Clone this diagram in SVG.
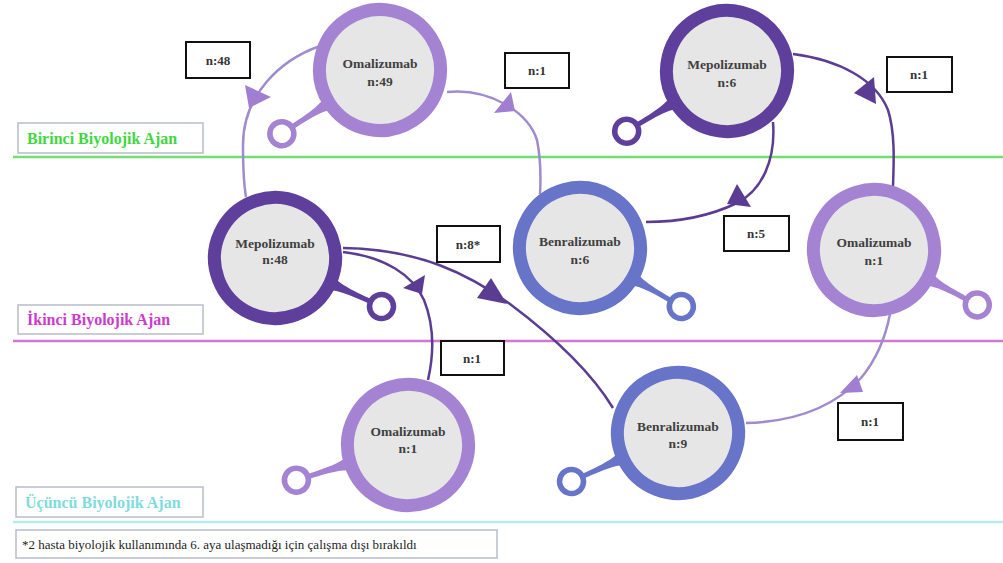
<svg xmlns="http://www.w3.org/2000/svg" xmlns:xlink="http://www.w3.org/1999/xlink" width="1003" height="563" viewBox="0 0 1003 563">
<style>
.nt{font-family:"Liberation Serif","Times New Roman",serif;font-weight:bold;font-size:13.5px;fill:#3f3f3f;text-anchor:middle}
.lb{fill:#fff;stroke:#111;stroke-width:2}
.lt{font-family:"Liberation Serif","Times New Roman",serif;font-weight:bold;font-size:13px;fill:#333;text-anchor:middle}
.sec{fill:#fff;stroke:#b9bccb;stroke-width:1.5}
.st{font-family:"Liberation Serif","Times New Roman",serif;font-weight:bold;font-size:16px}
.cl{fill:none;stroke:#a08bce;stroke-width:2.5}
.cd{fill:none;stroke:#5a3d92;stroke-width:2.5}
.al{fill:#a07fd2}
.ad{fill:#5a3d92}
.oma{color:#a484d2}
.mep{color:#5f3f9c}
.ben{color:#6874c8}
</style>
<defs>
<g id="node">
<path d="M57 -9 C69 -3.5 78 -2.5 108 -2.5 L108 2.5 C78 2.5 69 3.5 57 9 Z" fill="currentColor"/>
<circle cx="117" cy="0" r="12" fill="#fff" stroke="currentColor" stroke-width="5.5"/>
<circle cx="0" cy="0" r="60.5" fill="#e6e6e6" stroke="currentColor" stroke-width="13"/>
</g>
</defs>
<rect width="1003" height="563" fill="#fff"/>
<g id="lanes">
<line x1="13" y1="157" x2="1003" y2="157" stroke="#74dd74" stroke-width="2.5"/>
<line x1="13" y1="341" x2="1003" y2="341" stroke="#cf78cf" stroke-width="2.5"/>
<line x1="13" y1="522" x2="1003" y2="522" stroke="#b3ecec" stroke-width="2.5"/>
<rect class="sec" x="18" y="123" width="185" height="30"/>
<text class="st" x="27" y="144" fill="#3fd83f">Birinci Biyolojik Ajan</text>
<rect class="sec" x="18" y="305" width="185" height="29"/>
<text class="st" x="27" y="325" fill="#cc3ccc">İkinci Biyolojik Ajan</text>
<rect class="sec" x="16" y="487" width="187" height="30"/>
<text class="st" x="25" y="508" fill="#7fdcdc">Üçüncü Biyolojik Ajan</text>
<rect class="sec" x="16" y="530" width="481" height="28" stroke="#aaa"/>
<text x="22" y="549" font-family="Liberation Serif, Times New Roman, serif" font-size="13" fill="#222">*2 hasta biyolojik kullanımında 6. aya ulaşmadığı için çalışma dışı bırakıldı</text>
</g>
<g id="connectors">
<path class="cl" d="M320 46 C280 60 243 95 243 145 C243 170 244 185 246 197"/>
<polygon class="al" points="245,85 271,97 249,108"/>
<path class="cl" d="M447 92 C490 88 528 112 537 140 C541 160 541 176 540 194"/>
<polygon class="al" points="511,92 494,113 515,111"/>
<path class="cd" d="M793 54 C840 60 876 80 888 110 C895 132 894 160 893 186"/>
<polygon class="ad" points="874,77 854,93 876,104"/>
<path class="cd" d="M773 122 C776 160 762 190 737 203 C712 215 682 222 646 222"/>
<polygon class="ad" points="737,184 727,204 751,207"/>
<path class="cd" d="M343 248 C420 249 470 275 510 304 C550 334 590 370 613 408"/>
<polygon class="ad" points="491,278 477,298 507,304"/>
<path class="cd" d="M343 252 C385 257 413 275 424 300 C432 320 436 345 428 380"/>
<polygon class="ad" points="425,275 403,288 422,294"/>
<path class="cl" d="M890 314 C885 340 876 360 861 378 C831 410 790 422 746 423"/>
<polygon class="al" points="857,375 840,393 863,392"/>
</g>
<g id="n1" class="oma">
<use xlink:href="#node" href="#node" transform="translate(380,70) rotate(147)"/>
<text class="nt" x="380" y="68">Omalizumab</text>
<text class="nt" x="380" y="86">n:49</text>
</g>
<g id="n2" class="mep">
<use xlink:href="#node" href="#node" transform="translate(727,71) rotate(149)"/>
<text class="nt" x="727" y="69">Mepolizumab</text>
<text class="nt" x="727" y="87">n:6</text>
</g>
<g id="n3" class="mep">
<use xlink:href="#node" href="#node" transform="translate(275,258) rotate(24.5)"/>
<text class="nt" x="275" y="248">Mepolizumab</text>
<text class="nt" x="275" y="264">n:48</text>
</g>
<g id="n4" class="ben">
<use xlink:href="#node" href="#node" transform="translate(580,248) rotate(30)"/>
<text class="nt" x="580" y="246">Benralizumab</text>
<text class="nt" x="580" y="264">n:6</text>
</g>
<g id="n5" class="oma">
<use xlink:href="#node" href="#node" transform="translate(874,250) rotate(28)"/>
<text class="nt" x="874" y="247">Omalizumab</text>
<text class="nt" x="874" y="265">n:1</text>
</g>
<g id="n6" class="oma">
<use xlink:href="#node" href="#node" transform="translate(408,445) rotate(162.5)"/>
<text class="nt" x="408" y="436">Omalizumab</text>
<text class="nt" x="408" y="453">n:1</text>
</g>
<g id="n7" class="ben">
<use xlink:href="#node" href="#node" transform="translate(678,433) rotate(155.5)"/>
<text class="nt" x="678" y="431">Benralizumab</text>
<text class="nt" x="678" y="448">n:9</text>
</g>
<g id="labels">
<rect class="lb" x="186" y="42" width="64" height="36"/><text class="lt" x="218" y="65">n:48</text>
<rect class="lb" x="505" y="53" width="64" height="35"/><text class="lt" x="537" y="75">n:1</text>
<rect class="lb" x="887" y="57" width="65" height="35"/><text class="lt" x="919" y="79">n:1</text>
<rect class="lb" x="437" y="226" width="63" height="36"/><text class="lt" x="468" y="249">n:8*</text>
<rect class="lb" x="724" y="216" width="65" height="35"/><text class="lt" x="756" y="238">n:5</text>
<rect class="lb" x="441" y="341" width="63" height="34"/><text class="lt" x="472" y="363">n:1</text>
<rect class="lb" x="838" y="403" width="65" height="37"/><text class="lt" x="870" y="426">n:1</text>
</g>
</svg>
